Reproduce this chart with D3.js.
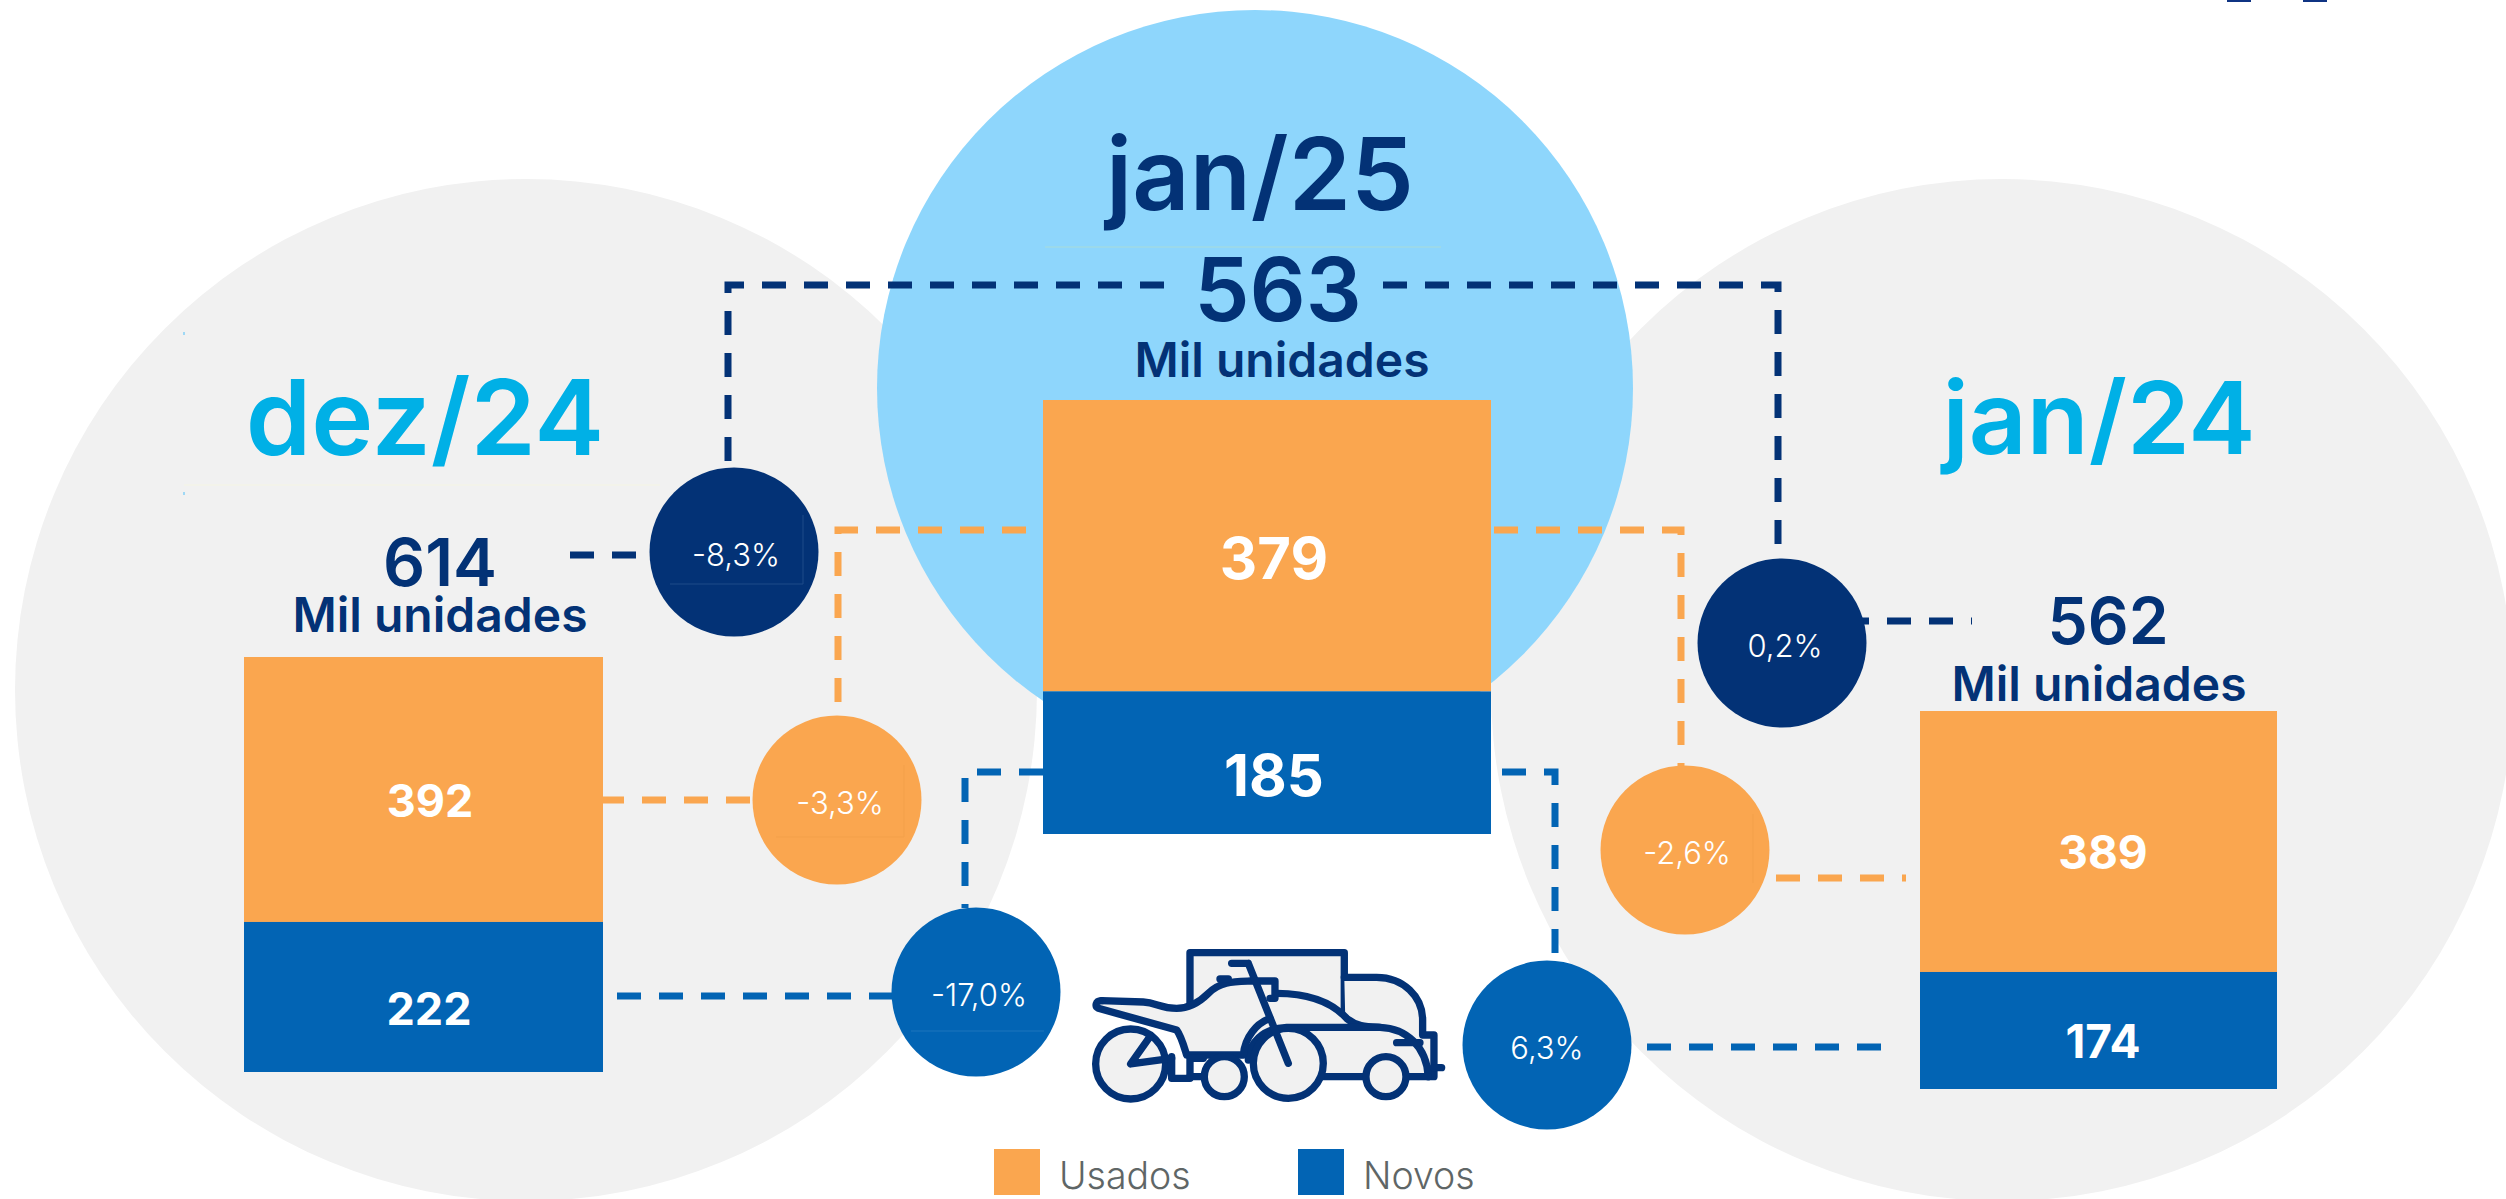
<!DOCTYPE html>
<html lang="pt-BR">
<head>
    <meta charset="UTF-8">
    <title>Usados e novos</title>
    <style>
        html, body { margin: 0; padding: 0; background: #fff; overflow: hidden; }
        svg { display: block; font-family: Inter, "Noto Sans", sans-serif; }
    </style>
</head>
<body>
<div id="chart"></div>
<script src="https://d3js.org/d3.v7.min.js"></script>
<script>
    // dados
    const periodos = ["dez/24", "jan/25", "jan/24"];
    const usados = [392, 379, 389];
    const novos = [222, 185, 174];
    const totais = [614, 563, 562];
    const unidade = "Mil unidades";
    const varTotal = ["-8,3%", "0,2%"];
    const varUsados = ["-3,3%", "-2,6%"];
    const varNovos = ["-17,0%", "6,3%"];
    const legenda = ["Usados", "Novos"];

    const width = 2506, height = 1199;
    const cor = { usados: "#faa64f", novos: "#0264b4", navy: "#033276", cinza: "#f1f1f1", ceu: "#8ed6fc", ciano: "#00b0e6" };

    const svg = d3.select("#chart").append("svg")
        .attr("width", width)
        .attr("height", height);

    // fundos
    svg.selectAll("circle.fundo")
        .data([[526, 690, 511, cor.cinza], [2002, 690, 511, cor.cinza], [1255, 388, 378, cor.ceu]])
        .join("circle")
        .attr("class", "fundo")
        .attr("cx", d => d[0]).attr("cy", d => d[1]).attr("r", d => d[2])
        .style("fill", d => d[3]);

    // restos da imagem original
    svg.selectAll("rect.topo").data([2227, 2303]).join("rect")
        .attr("class", "topo")
        .attr("x", d => d).attr("y", 0).attr("width", 24).attr("height", 2)
        .style("fill", "#0f3483");
    svg.append("path").attr("d", "M184 485H660").style("stroke", "#f3f3ea").style("stroke-width", 2);
    svg.append("path").attr("d", "M1045 247H1441").style("stroke", "#a9dcd8").style("stroke-width", 1);
    svg.append("path").attr("d", "M184 332v3M184 492v3").style("stroke", "#9fd8f5").style("stroke-width", 2);

    // conectores tracejados
    const conectores = [
        ["navy", "M728 461V285H1165"],
        ["navy", "M1383 285H1778V544"],
        ["navy", "M570 555H650"],
        ["navy", "M1845 621H1972"],
        ["usados", "M838 702V530H1026"],
        ["usados", "M1494 530H1681V766"],
        ["usados", "M600 800H751"],
        ["usados", "M1776 878H1906"],
        ["novos", "M1043 772H965V908"],
        ["novos", "M1502 772H1555V959"],
        ["novos", "M617 996H892"],
        ["novos", "M1647 1047H1881"]
    ];
    svg.append("g").selectAll("path").data(conectores).join("path")
        .attr("d", d => d[1])
        .style("fill", "none")
        .style("stroke", d => cor[d[0]])
        .style("stroke-width", 7)
        .style("stroke-dasharray", "24,18");

    // barras: cada painel tem a sua escala
    const barX = d3.scaleOrdinal().domain(periodos).range([244, 1043, 1920]);
    const barW = d3.scaleOrdinal().domain(periodos).range([359, 448, 357]);
    const base = d3.scaleOrdinal().domain(periodos).range([1072, 834, 1089]);
    const topo = d3.scaleOrdinal().domain(periodos).range([657, 400, 711]);
    const yDe = p => {
        const i = periodos.indexOf(p);
        return d3.scaleLinear().domain([0, totais[i]]).range([base(p), topo(p)]);
    };
    const tamValor = d3.scaleOrdinal().domain(periodos).range([45, 58, 46]);

    const paineis = svg.append("g").selectAll("g").data(periodos).join("g");
    paineis.each(function (p, i) {
        const g = d3.select(this), y = yDe(p);
        g.append("rect").attr("x", barX(p)).attr("width", barW(p))
            .attr("y", y(totais[i])).attr("height", y(novos[i]) - y(totais[i]))
            .style("fill", cor.usados);
        g.append("rect").attr("x", barX(p)).attr("width", barW(p))
            .attr("y", y(novos[i])).attr("height", y(0) - y(novos[i]))
            .style("fill", cor.novos);
    });

    // valores das barras
    const valores = [
        [usados[0], 430, 800, 0], [novos[0], 429, 1008, 0],
        [usados[1], 1274, 558, 1], [novos[1], 1274, 775, 1],
        [usados[2], 2103, 852, 2], [novos[2], 2103, 1041, 2]
    ];
    svg.append("g").selectAll("text").data(valores).join("text")
        .attr("x", d => d[1]).attr("y", d => d[2])
        .attr("text-anchor", "middle").attr("dominant-baseline", "central")
        .style("font-size", d => tamValor(periodos[d[3]]) + "px")
        .style("font-weight", 700)
        .style("fill", "#fff")
        .text(d => d[0]);

    // titulos, totais
    const titulos = [
        [periodos[0], 425, 455, 105, cor.ciano],
        [periodos[1], 1260, 210, 100, cor.navy],
        [periodos[2], 2099, 454, 101, cor.ciano]
    ];
    svg.append("g").selectAll("text").data(titulos).join("text")
        .attr("x", d => d[1]).attr("y", d => d[2])
        .attr("text-anchor", "middle")
        .style("font-size", d => d[3] + "px")
        .style("font-weight", 600)
        .style("fill", d => d[4])
        .text(d => d[0]);

    const rotulos = [
        [totais[0], 440, 586, 66, 600], [unidade, 440, 632, 48, 600],
        [totais[1], 1278, 321, 88, 600], [unidade, 1282, 377, 48, 600],
        [totais[2], 2108, 644, 64, 600], [unidade, 2099, 701, 48, 600]
    ];
    svg.append("g").selectAll("text").data(rotulos).join("text")
        .attr("x", d => d[1]).attr("y", d => d[2])
        .attr("text-anchor", "middle")
        .style("font-size", d => d[3] + "px")
        .style("font-weight", d => d[4])
        .style("fill", cor.navy)
        .text(d => d[0]);

    // bolhas de variacao
    const bolhas = [
        [varTotal[0], 734, 552, "navy", 736],
        [varTotal[1], 1782, 643, "navy", 1785],
        [varUsados[0], 837, 800, "usados", 840],
        [varUsados[1], 1685, 850, "usados", 1687],
        [varNovos[0], 976, 992, "novos", 979],
        [varNovos[1], 1547, 1045, "novos", 1547]
    ];
    svg.append("g").selectAll("circle").data(bolhas).join("circle")
        .attr("cx", d => d[1]).attr("cy", d => d[2]).attr("r", 84.5)
        .style("fill", d => cor[d[3]]);
    const riscos = [
        ["M670 584H803V515", "#1e4a88"],
        ["M776 837H904V765", "#f3a04a"],
        ["M911 1031H1044", "#1d74bc"],
        ["M1753 814V883", "#f3a04a"]
    ];
    svg.append("g").selectAll("path").data(riscos).join("path")
        .attr("d", d => d[0])
        .style("fill", "none").style("stroke", d => d[1]).style("stroke-width", 1);
    svg.append("g").selectAll("text").data(bolhas).join("text")
        .attr("x", d => d[4]).attr("y", d => d[2] + 2)
        .attr("text-anchor", "middle").attr("dominant-baseline", "central")
        .style("font-size", "31px")
        .style("font-weight", 300)
        .style("fill", "#fff")
        .text(d => d[0]);

    // icone moto + carro (desenhado na escala do recorte)
    const ic = svg.append("g")
        .attr("transform", "translate(1000, 880) scale(0.3333)")
        .style("stroke-linecap", "round")
        .style("stroke-linejoin", "round");
    const desenha = (preench, traco) => {
        if (preench) ic.append("path").attr("d", preench).style("fill", cor.cinza).style("stroke", "none");
        traco.forEach(t => ic.append("path").attr("d", t)
            .style("fill", "none").style("stroke", cor.navy).style("stroke-width", 22));
    };
    const roda = (cx, cy, r) => ic.append("circle").attr("cx", cx).attr("cy", cy).attr("r", r)
        .style("fill", cor.cinza).style("stroke", cor.navy).style("stroke-width", 22);

    // caixa, cabine e carroceria
    desenha("M570 218H1033V430H570Z", ["M570 370V218H1033V410"]);
    desenha("M1033 292H1130C1210 292 1268 350 1268 420V465H1302V590H1040Z",
        ["M1033 292H1130C1210 292 1268 350 1268 420V465H1302V590H1285"]);
    desenha("M825 340C920 340 990 360 1040 415C1070 440 1100 440 1140 442C1220 445 1280 500 1285 590H760V440Z",
        ["M830 340C920 340 990 360 1040 415C1070 440 1100 440 1140 442C1220 445 1280 500 1285 590",
         "M970 590H1285", "M745 540C745 490 790 445 860 442H1140", "M1190 488H1260", "M1300 563H1325"]);
    // moto
    desenha("M305 362L430 366C470 368 480 385 530 385C570 385 600 365 625 340C660 305 700 305 750 303H825V355L810 415C770 430 735 470 730 525H560C555 510 545 470 530 450L295 385C285 375 290 362 305 362Z",
        ["M305 362L430 366C470 368 480 385 530 385C570 385 600 365 625 340C660 305 700 305 750 303H825V355H810",
         "M305 362C285 362 285 380 295 385L530 450C545 470 555 510 560 525H730C735 470 770 430 810 415",
         "M660 297H685"]);
    roda(392, 552, 105);
    desenha(null, ["M450 470L392 552L515 535", "M515 530V595H570V535H610", "M570 590H610"]);
    roda(673, 590, 60);
    roda(865, 550, 105);
    roda(1158, 590, 60);
    desenha(null, ["M745 250H695M745 250L865 550"]);

    // legenda
    const legX = d3.scaleOrdinal().domain(legenda).range([994, 1298]);
    const legCor = d3.scaleOrdinal().domain(legenda).range([cor.usados, cor.novos]);
    const leg = svg.append("g").selectAll("g").data(legenda).join("g");
    leg.append("rect").attr("x", d => legX(d)).attr("y", 1149).attr("width", 46).attr("height", 46)
        .style("fill", d => legCor(d));
    leg.append("text").attr("x", d => legX(d) + 65).attr("y", 1189)
        .style("font-size", "37.5px").style("font-weight", 300).style("fill", "#5f6666")
        .text(d => d);
</script>
</body>
</html>
